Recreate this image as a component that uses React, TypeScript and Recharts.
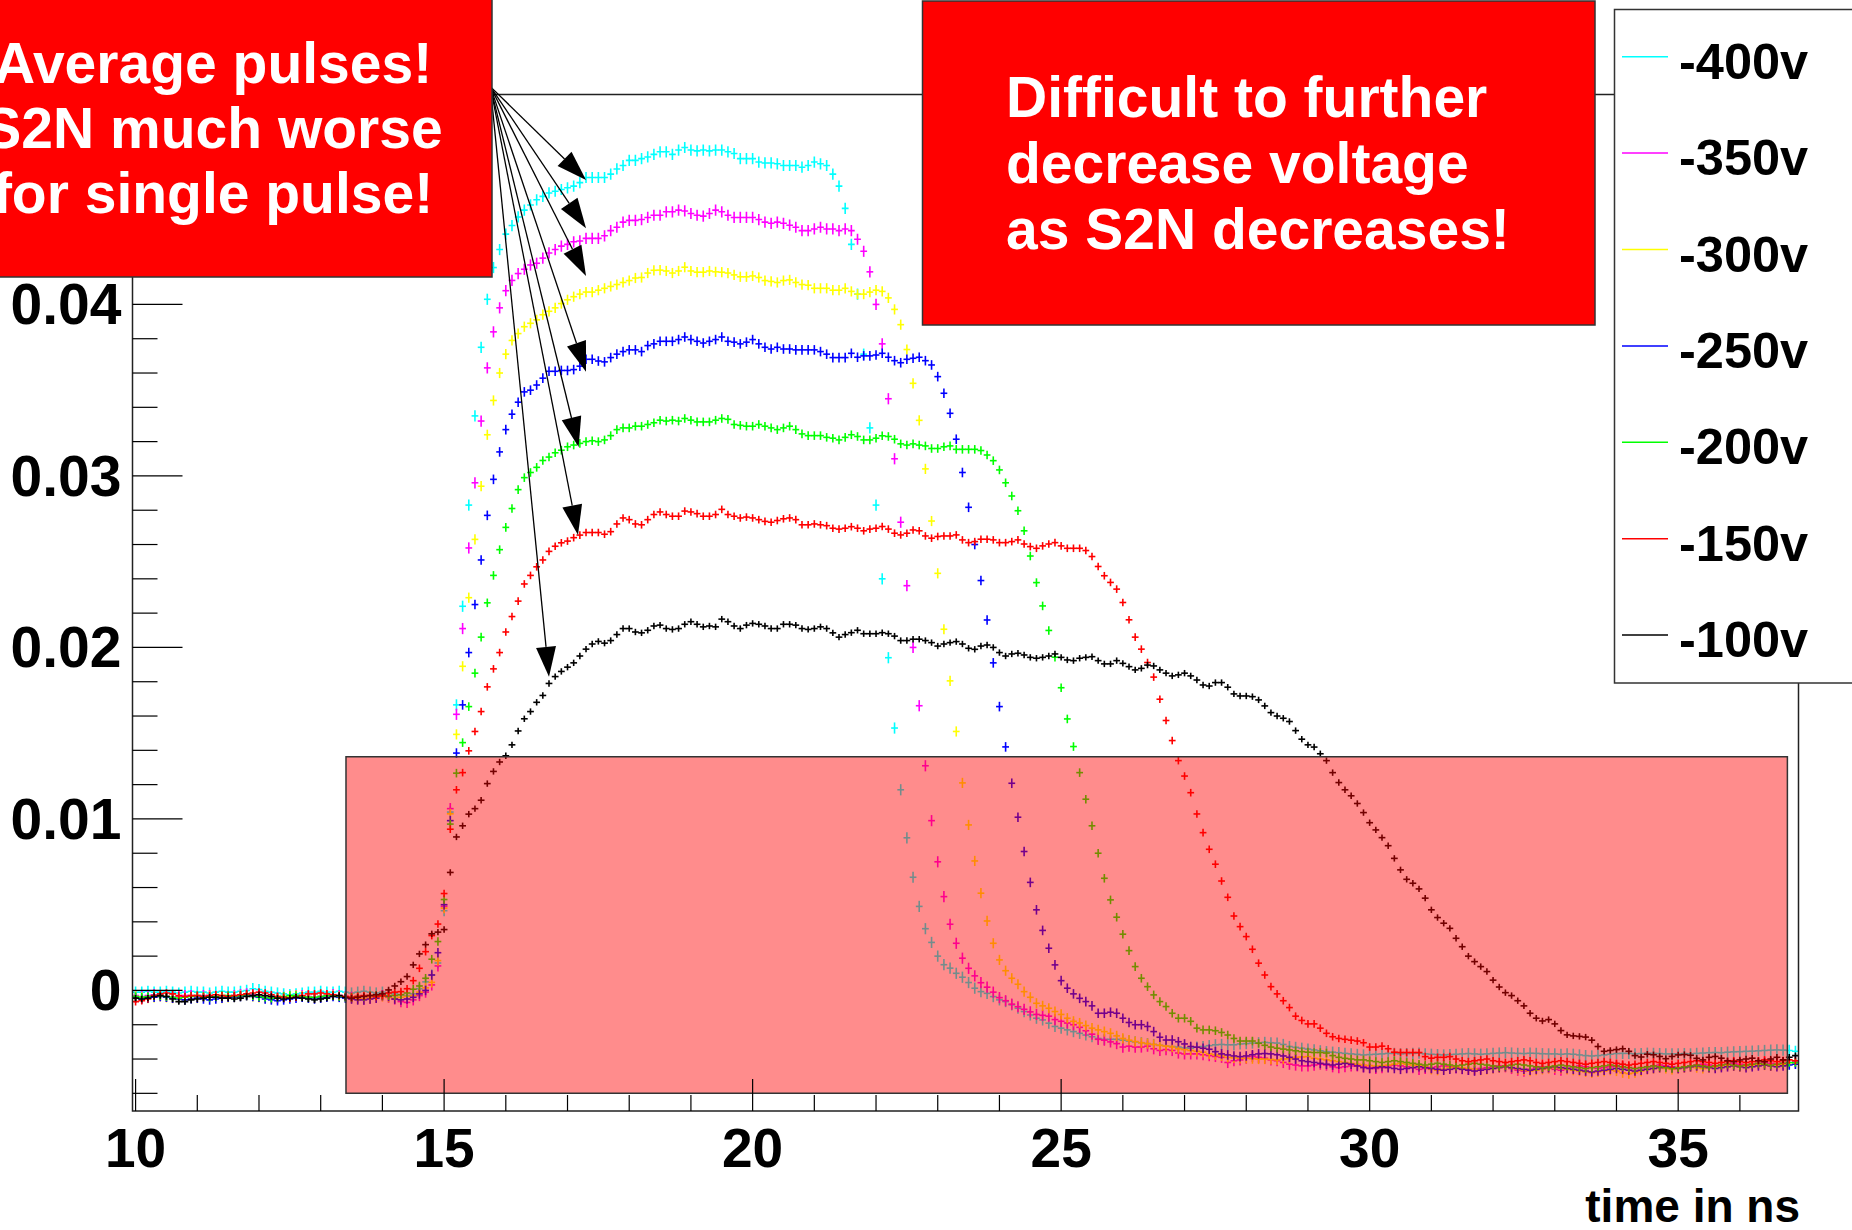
import React from "react";
import {
  ScatterChart,
  Scatter,
  XAxis,
  YAxis,
  ReferenceArea,
  ReferenceLine,
} from "recharts";

const W = 1852;
const H = 1230;
const FONT = "'Liberation Sans', Arial, Helvetica, sans-serif";

// plot frame in page pixels
const MARGIN = { top: 94.5, right: 53.5, bottom: 0, left: 0 };
const Y_AXIS_W = 132.5;
const X_AXIS_H = 119;

const X_DOMAIN: [number, number] = [9.95, 36.95];
const Y_DOMAIN: [number, number] = [-0.00703, 0.05224];

// averaged pulses, one value per 0.1 ns bin starting at 10.0 ns, in mV
const T0 = 10.0;
const DT = 0.1;

const mv400 = [
  -0.1, -0.1, -0.05, -0.1, -0.1, -0.05, -0.1, -0.15, -0.1, -0.05,
  -0.1, -0.1, -0.15, -0.1, -0.05, -0.1, -0.1, -0.05, 0.0, 0.1,
  0.05, -0.05, -0.1, -0.15, -0.2, -0.25, -0.2, -0.15, -0.1, -0.1,
  -0.05, -0.1, -0.1, -0.05, -0.1, -0.15, -0.1, -0.05, -0.1, -0.15,
  -0.1, -0.15, -0.2, -0.25, -0.3, -0.2, 0.1, 0.5, 0.9, 1.6,
  4.65, 10.4, 16.65, 22.4, 28.3, 33.5, 37.5, 40.3, 42.15, 43.2,
  44.1, 44.6, 45.1, 45.5, 45.8, 46.1, 46.3, 46.5, 46.6, 46.7,
  46.8, 46.9, 47.1, 47.4, 47.4, 47.4, 47.4, 47.6, 47.9, 48.1,
  48.4, 48.4, 48.5, 48.6, 48.75, 48.9, 48.9, 48.75, 49.0, 49.15,
  49.0, 48.95, 49.0, 48.95, 49.0, 49.0, 48.9, 48.8, 48.5, 48.5,
  48.5, 48.3, 48.25, 48.25, 48.2, 48.1, 48.1, 48.1, 48.0, 48.1,
  48.3, 48.2, 48.1, 47.6, 46.9, 45.6, 43.5, 40.6, 37.1, 32.8,
  28.3, 24.0, 19.4, 15.3, 11.7, 8.9, 6.6, 4.9, 3.6, 2.8,
  2.0, 1.5, 1.3, 1.0, 0.77, 0.46, 0.13, -0.07, -0.17, -0.36,
  -0.55, -0.65, -0.84, -1.04, -1.23, -1.43, -1.62, -1.72, -1.91, -2.1,
  -2.2, -2.3, -2.4, -2.5, -2.6, -2.7, -2.8, -2.85, -2.85, -2.85,
  -2.9, -2.95, -3.0, -3.05, -3.1, -3.15, -3.2, -3.25, -3.27, -3.3,
  -3.35, -3.37, -3.3, -3.27, -3.22, -3.17, -3.15, -3.17, -3.17, -3.12,
  -3.1, -3.07, -3.05, -3.03, -3.05, -3.07, -3.15, -3.27, -3.32, -3.37,
  -3.42, -3.47, -3.52, -3.57, -3.6, -3.63, -3.67, -3.7, -3.73, -3.76,
  -3.74, -3.72, -3.7, -3.67, -3.67, -3.7, -3.68, -3.67, -3.66, -3.7,
  -3.72, -3.74, -3.76, -3.74, -3.72, -3.7, -3.68, -3.7, -3.72, -3.7,
  -3.67, -3.65, -3.63, -3.65, -3.67, -3.68, -3.66, -3.67, -3.69, -3.7,
  -3.7, -3.72, -3.7, -3.72, -3.76, -3.8, -3.82, -3.8, -3.76, -3.72,
  -3.68, -3.67, -3.67, -3.7, -3.68, -3.66, -3.67, -3.68, -3.7, -3.7,
  -3.7, -3.68, -3.7, -3.67, -3.65, -3.63, -3.62, -3.63, -3.6, -3.58,
  -3.57, -3.55, -3.54, -3.52, -3.5, -3.48, -3.47, -3.48, -3.5, -3.55,
];

const mv350 = [
  -0.3, -0.35, -0.3, -0.25, -0.3, -0.35, -0.4, -0.35, -0.3, -0.3,
  -0.35, -0.3, -0.3, -0.35, -0.4, -0.35, -0.3, -0.25, -0.2, -0.25,
  -0.3, -0.35, -0.4, -0.45, -0.4, -0.35, -0.3, -0.3, -0.35, -0.4,
  -0.35, -0.3, -0.25, -0.3, -0.35, -0.4, -0.45, -0.5, -0.45, -0.4,
  -0.3, -0.4, -0.5, -0.65, -0.7, -0.55, -0.3, -0.1, 0.32, 1.43,
  4.9, 10.6, 16.1, 21.1, 25.8, 29.6, 33.2, 36.3, 38.4, 39.8,
  40.8, 41.4, 41.8, 42.05, 42.3, 42.4, 42.7, 43.0, 43.2, 43.4,
  43.5, 43.65, 43.7, 43.85, 43.85, 43.85, 44.0, 44.3, 44.5, 44.8,
  44.9, 44.9, 44.95, 45.07, 45.2, 45.2, 45.4, 45.4, 45.5, 45.45,
  45.3, 45.2, 45.15, 45.3, 45.5, 45.4, 45.2, 45.07, 45.07, 45.07,
  45.07, 44.95, 44.8, 44.73, 44.8, 44.73, 44.62, 44.5, 44.3, 44.3,
  44.4, 44.5, 44.4, 44.4, 44.3, 44.4, 44.3, 43.8, 43.1, 41.9,
  40.0, 37.7, 34.5, 31.0, 27.3, 23.6, 20.0, 16.6, 13.1, 9.9,
  7.5, 5.47, 3.86, 2.75, 1.88, 1.29, 0.85, 0.45, 0.19, -0.1,
  -0.42, -0.6, -0.8, -0.95, -1.1, -1.25, -1.4, -1.45, -1.5, -1.7,
  -1.8, -1.9, -2.0, -2.15, -2.35, -2.55, -2.85, -2.9, -3.0, -3.1,
  -3.3, -3.25, -3.3, -3.3, -3.25, -3.4, -3.5, -3.45, -3.5, -3.65,
  -3.7, -3.7, -3.7, -3.75, -3.8, -3.85, -3.9, -4.2, -4.1, -4.05,
  -3.95, -3.85, -3.9, -3.95, -4.05, -4.1, -4.2, -4.3, -4.35, -4.4,
  -4.4, -4.35, -4.3, -4.35, -4.45, -4.5, -4.45, -4.4, -4.4, -4.45,
  -4.5, -4.55, -4.5, -4.4, -4.35, -4.4, -4.45, -4.5, -4.6, -4.55,
  -4.5, -4.45, -4.4, -4.45, -4.5, -4.55, -4.6, -4.6, -4.55, -4.5,
  -4.45, -4.4, -4.45, -4.55, -4.65, -4.7, -4.6, -4.5, -4.45, -4.5,
  -4.6, -4.65, -4.55, -4.45, -4.4, -4.45, -4.5, -4.55, -4.5, -4.45,
  -4.4, -4.45, -4.5, -4.55, -4.5, -4.45, -4.4, -4.35, -4.4, -4.45,
  -4.5, -4.45, -4.4, -4.35, -4.3, -4.35, -4.4, -4.35, -4.3, -4.25,
  -4.3, -4.35, -4.3, -4.25, -4.2, -4.25, -4.3, -4.25, -4.2, -4.15,
];

const mv300 = [
  -0.35, -0.4, -0.45, -0.4, -0.35, -0.4, -0.45, -0.5, -0.55, -0.5,
  -0.45, -0.4, -0.35, -0.4, -0.45, -0.4, -0.35, -0.3, -0.3, -0.35,
  -0.4, -0.45, -0.5, -0.45, -0.4, -0.35, -0.3, -0.35, -0.4, -0.45,
  -0.4, -0.35, -0.3, -0.35, -0.4, -0.45, -0.5, -0.5, -0.45, -0.4,
  -0.35, -0.4, -0.45, -0.4, -0.35, -0.3, -0.1, 0.15, 0.47, 1.74,
  4.8, 10.3, 14.93, 18.9, 22.9, 26.3, 29.4, 32.4, 34.4, 36.0,
  37.1, 37.9, 38.3, 38.7, 38.9, 39.1, 39.4, 39.6, 39.8, 40.05,
  40.27, 40.45, 40.6, 40.72, 40.72, 40.83, 40.94, 41.05, 41.16, 41.28,
  41.39, 41.54, 41.57, 41.83, 41.99, 42.0, 41.95, 41.83, 41.95, 42.17,
  41.95, 41.88, 41.88, 41.95, 41.9, 41.88, 41.83, 41.72, 41.61, 41.61,
  41.66, 41.57, 41.39, 41.34, 41.28, 41.39, 41.43, 41.28, 41.16, 41.12,
  40.94, 40.94, 40.94, 40.83, 40.83, 40.94, 40.76, 40.6, 40.6, 40.72,
  40.83, 40.76, 40.38, 39.71, 38.82, 37.37, 35.4, 33.24, 30.41, 27.37,
  24.32, 21.06, 18.05, 15.1, 12.1, 9.65, 7.55, 5.67, 4.05, 2.75,
  1.78, 1.15, 0.71, 0.36, -0.07, -0.4, -0.75, -0.9, -1.04, -1.23,
  -1.4, -1.62, -1.8, -1.9, -2.05, -2.2, -2.3, -2.4, -2.5, -2.65,
  -2.8, -2.9, -2.98, -3.05, -3.1, -3.15, -3.2, -3.25, -3.3, -3.4,
  -3.45, -3.5, -3.55, -3.6, -3.7, -3.76, -3.82, -3.9, -3.93, -3.96,
  -3.96, -3.98, -4.0, -4.0, -4.02, -4.05, -4.0, -3.98, -3.9, -3.88,
  -3.86, -3.96, -4.0, -4.05, -4.1, -4.15, -4.2, -4.25, -4.3, -4.35,
  -4.38, -4.41, -4.38, -4.35, -4.3, -4.25, -4.3, -4.35, -4.4, -4.45,
  -4.6, -4.65, -4.6, -4.5, -4.45, -4.5, -4.55, -4.6, -4.65, -4.6,
  -4.55, -4.5, -4.45, -4.5, -4.6, -4.65, -4.7, -4.65, -4.6, -4.55,
  -4.5, -4.55, -4.6, -4.65, -4.7, -4.75, -4.8, -4.75, -4.7, -4.65,
  -4.7, -4.8, -4.85, -4.8, -4.7, -4.6, -4.55, -4.5, -4.55, -4.6,
  -4.55, -4.5, -4.45, -4.5, -4.55, -4.5, -4.45, -4.4, -4.35, -4.4,
  -4.45, -4.4, -4.35, -4.3, -4.35, -4.4, -4.35, -4.3, -4.3, -4.25,
];

const mv250 = [
  -0.45, -0.5, -0.45, -0.4, -0.35, -0.4, -0.45, -0.5, -0.55, -0.5,
  -0.45, -0.5, -0.55, -0.5, -0.45, -0.4, -0.4, -0.35, -0.3, -0.35,
  -0.4, -0.5, -0.55, -0.6, -0.55, -0.5, -0.45, -0.4, -0.45, -0.5,
  -0.45, -0.4, -0.35, -0.4, -0.45, -0.5, -0.55, -0.55, -0.5, -0.45,
  -0.3, -0.35, -0.5, -0.55, -0.5, -0.4, -0.2, 0.0, 0.9, 2.2,
  5.0, 9.9, 13.84, 16.65, 19.7, 22.5, 25.1, 27.7, 29.8, 31.4,
  32.7, 33.6, 34.3, 34.9, 35.0, 35.3, 35.7, 36.1, 36.1, 36.15,
  36.15, 36.2, 36.4, 36.8, 36.8, 36.7, 36.65, 36.9, 37.1, 37.25,
  37.35, 37.35, 37.25, 37.6, 37.7, 37.85, 37.85, 37.85, 37.95, 38.1,
  37.95, 37.85, 37.75, 37.85, 37.95, 38.1, 37.85, 37.8, 37.7, 37.8,
  37.95, 37.7, 37.5, 37.4, 37.5, 37.4, 37.4, 37.35, 37.35, 37.35,
  37.35, 37.25, 37.1, 36.9, 36.9, 36.9, 37.15, 36.92, 37.0, 37.0,
  37.05, 37.15, 36.92, 36.72, 36.6, 36.8, 36.86, 36.92, 36.72, 36.47,
  35.79, 34.82, 33.65, 32.14, 30.2, 28.17, 26.0, 23.9, 21.6, 19.1,
  16.55, 14.2, 12.08, 10.1, 8.1, 6.3, 4.7, 3.5, 2.46, 1.49,
  0.57, 0.13, -0.2, -0.46, -0.65, -0.9, -1.33, -1.33, -1.27, -1.33,
  -1.62, -1.87, -2.0, -2.0, -2.1, -2.4, -2.73, -2.89, -2.89, -2.99,
  -3.12, -3.27, -3.31, -3.37, -3.43, -3.57, -3.7, -3.76, -3.82, -3.86,
  -3.82, -3.75, -3.7, -3.68, -3.7, -3.75, -3.82, -3.9, -4.0, -4.1,
  -4.15, -4.2, -4.25, -4.3, -4.35, -4.3, -4.25, -4.3, -4.4, -4.5,
  -4.55, -4.5, -4.45, -4.5, -4.55, -4.6, -4.55, -4.5, -4.45, -4.5,
  -4.55, -4.6, -4.65, -4.6, -4.55, -4.6, -4.65, -4.7, -4.65, -4.6,
  -4.55, -4.5, -4.45, -4.5, -4.55, -4.6, -4.65, -4.6, -4.55, -4.5,
  -4.45, -4.5, -4.55, -4.6, -4.65, -4.7, -4.75, -4.7, -4.65, -4.6,
  -4.55, -4.6, -4.65, -4.7, -4.65, -4.6, -4.55, -4.5, -4.45, -4.5,
  -4.55, -4.5, -4.45, -4.4, -4.45, -4.5, -4.55, -4.5, -4.45, -4.4,
  -4.45, -4.5, -4.45, -4.4, -4.35, -4.4, -4.45, -4.4, -4.35, -4.3,
];

const mv200 = [
  -0.35, -0.4, -0.35, -0.3, -0.3, -0.35, -0.4, -0.45, -0.4, -0.35,
  -0.3, -0.35, -0.4, -0.35, -0.3, -0.3, -0.35, -0.3, -0.25, -0.3,
  -0.35, -0.4, -0.45, -0.4, -0.35, -0.3, -0.3, -0.35, -0.4, -0.4,
  -0.35, -0.3, -0.3, -0.35, -0.4, -0.4, -0.35, -0.35, -0.3, -0.3,
  -0.3, -0.3, -0.3, -0.25, -0.15, 0.07, 0.26, 0.71, 1.82, 2.85,
  5.3, 9.7, 12.67, 14.45, 16.55, 18.5, 20.6, 22.6, 24.2, 25.7,
  27.0, 28.1, 29.2, 29.9, 30.2, 30.5, 30.9, 31.1, 31.35, 31.5,
  31.7, 31.8, 31.9, 32.0, 32.05, 32.0, 32.1, 32.35, 32.7, 32.8,
  32.8, 32.9, 32.9, 33.0, 33.1, 33.25, 33.2, 33.25, 33.2, 33.35,
  33.25, 33.15, 33.15, 33.15, 33.25, 33.35, 33.3, 33.0, 32.95, 32.9,
  32.9, 33.0, 32.9, 32.8, 32.7, 32.8, 32.9, 32.7, 32.45, 32.35,
  32.35, 32.35, 32.25, 32.2, 32.1, 32.25, 32.4, 32.3, 32.1, 32.1,
  32.2, 32.34, 32.3, 32.14, 31.87, 31.8, 31.87, 31.8, 31.75, 31.6,
  31.6, 31.7, 31.75, 31.55, 31.55, 31.55, 31.55, 31.48, 31.22, 30.89,
  30.35, 29.6, 28.83, 27.97, 26.8, 25.33, 23.78, 22.42, 20.99, 19.43,
  17.65, 15.83, 14.22, 12.7, 11.15, 9.6, 8.0, 6.54, 5.28, 4.27,
  3.28, 2.32, 1.39, 0.71, 0.22, -0.26, -0.65, -0.94, -1.33, -1.62,
  -1.62, -1.8, -2.2, -2.3, -2.3, -2.35, -2.45, -2.6, -2.8, -2.95,
  -2.95, -2.95, -3.08, -3.2, -3.3, -3.37, -3.42, -3.47, -3.52, -3.57,
  -3.6, -3.62, -3.62, -3.65, -3.8, -3.9, -3.96, -4.0, -4.05, -4.05,
  -4.1, -4.15, -4.2, -4.15, -4.1, -4.15, -4.2, -4.25, -4.3, -4.35,
  -4.3, -4.25, -4.3, -4.35, -4.4, -4.35, -4.3, -4.25, -4.3, -4.35,
  -4.4, -4.45, -4.4, -4.35, -4.3, -4.35, -4.4, -4.45, -4.5, -4.45,
  -4.4, -4.35, -4.4, -4.45, -4.5, -4.55, -4.5, -4.45, -4.4, -4.35,
  -4.4, -4.45, -4.5, -4.55, -4.5, -4.45, -4.4, -4.45, -4.5, -4.55,
  -4.5, -4.45, -4.4, -4.35, -4.4, -4.45, -4.4, -4.35, -4.3, -4.35,
  -4.4, -4.35, -4.3, -4.25, -4.3, -4.35, -4.3, -4.25, -4.2, -4.2,
];

const mv150 = [
  -0.65, -0.6, -0.5, -0.3, -0.2, -0.15, -0.2, -0.3, -0.35, -0.3,
  -0.3, -0.35, -0.3, -0.25, -0.3, -0.35, -0.3, -0.25, -0.2, -0.15,
  -0.1, -0.15, -0.25, -0.35, -0.4, -0.45, -0.4, -0.3, -0.2, -0.2,
  -0.15, -0.2, -0.25, -0.3, -0.35, -0.4, -0.35, -0.3, -0.3, -0.35,
  -0.3, -0.15, -0.1, -0.07, 0.1, 0.57, 1.29, 2.26, 3.2, 3.87,
  5.65, 9.4, 11.7, 12.7, 13.97, 15.1, 16.26, 17.7, 18.75, 19.7,
  20.9, 21.8, 22.7, 23.7, 24.2, 24.7, 25.1, 25.6, 25.9, 26.1,
  26.2, 26.4, 26.55, 26.7, 26.7, 26.7, 26.6, 26.75, 27.2, 27.55,
  27.45, 27.2, 27.15, 27.45, 27.75, 27.9, 27.75, 27.65, 27.65, 27.95,
  27.9, 27.8, 27.65, 27.65, 27.75, 28.05, 27.75, 27.65, 27.55, 27.6,
  27.55, 27.45, 27.35, 27.3, 27.4, 27.5, 27.55, 27.45, 27.15, 27.15,
  27.2, 27.15, 27.1, 26.95, 26.9, 26.95, 27.04, 26.95, 26.8, 26.9,
  26.95, 27.05, 26.9, 26.66, 26.56, 26.66, 26.85, 26.8, 26.5, 26.37,
  26.47, 26.5, 26.5, 26.56, 26.27, 26.11, 26.17, 26.31, 26.31, 26.27,
  26.11, 26.11, 26.17, 26.27, 26.03, 25.88, 25.78, 25.92, 26.03, 26.11,
  25.92, 25.78, 25.78, 25.78, 25.65, 25.3, 24.72, 24.18, 23.79, 23.4,
  22.62, 21.61, 20.6, 19.9, 19.12, 18.27, 16.98, 15.74, 14.57, 13.4,
  12.5, 11.53, 10.29, 9.2, 8.23, 7.36, 6.38, 5.43, 4.34, 3.72,
  3.14, 2.4, 1.59, 0.9, 0.22, -0.2, -0.6, -1.0, -1.5, -1.75,
  -1.95, -1.95, -2.2, -2.5, -2.7, -2.8, -2.85, -2.9, -2.95, -3.05,
  -3.3, -3.3, -3.25, -3.4, -3.6, -3.62, -3.62, -3.62, -3.62, -3.86,
  -3.95, -3.9, -3.9, -3.86, -4.0, -4.1, -4.15, -4.1, -4.05, -4.0,
  -4.1, -4.15, -4.2, -4.15, -4.1, -4.05, -4.1, -4.2, -4.25, -4.2,
  -4.15, -4.1, -4.15, -4.2, -4.25, -4.3, -4.25, -4.2, -4.15, -4.2,
  -4.25, -4.3, -4.35, -4.3, -4.25, -4.2, -4.15, -4.2, -4.25, -4.3,
  -4.25, -4.2, -4.15, -4.1, -4.15, -4.2, -4.25, -4.2, -4.15, -4.1,
  -4.15, -4.2, -4.15, -4.1, -4.05, -4.1, -4.15, -4.1, -4.05, -4.1,
];

const mv100 = [
  -0.45, -0.5, -0.45, -0.35, -0.3, -0.35, -0.5, -0.65, -0.65, -0.55,
  -0.5, -0.45, -0.4, -0.4, -0.45, -0.45, -0.5, -0.45, -0.35, -0.3,
  -0.25, -0.3, -0.35, -0.45, -0.5, -0.45, -0.4, -0.45, -0.5, -0.55,
  -0.5, -0.45, -0.35, -0.3, -0.4, -0.45, -0.4, -0.35, -0.3, -0.25,
  -0.2, 0.03, 0.26, 0.51, 0.81, 1.49, 2.13, 2.67, 3.3, 3.4,
  3.55, 6.88, 8.95, 9.6, 10.28, 10.6, 11.09, 12.06, 12.77, 13.32,
  13.68, 14.32, 15.13, 15.84, 16.26, 16.8, 17.2, 17.9, 18.3, 18.6,
  18.85, 19.1, 19.5, 19.9, 20.2, 20.35, 20.25, 20.4, 20.75, 21.1,
  21.1, 20.9, 20.85, 21.0, 21.25, 21.3, 21.1, 21.05, 21.1, 21.35,
  21.5, 21.35, 21.2, 21.25, 21.2, 21.65, 21.5, 21.25, 21.1, 21.3,
  21.4, 21.35, 21.25, 21.1, 21.1, 21.35, 21.35, 21.3, 21.1, 21.05,
  21.1, 21.2, 21.1, 20.85, 20.6, 20.75, 20.86, 21.0, 20.8, 20.8,
  20.8, 20.86, 20.8, 20.66, 20.4, 20.4, 20.48, 20.48, 20.4, 20.28,
  20.08, 20.2, 20.28, 20.34, 20.2, 19.95, 19.89, 20.08, 20.14, 20.0,
  19.7, 19.5, 19.62, 19.66, 19.56, 19.42, 19.37, 19.42, 19.5, 19.62,
  19.42, 19.27, 19.23, 19.37, 19.42, 19.46, 19.23, 19.04, 19.04, 19.23,
  19.07, 18.88, 18.69, 18.78, 18.97, 18.92, 18.69, 18.5, 18.34, 18.4,
  18.5, 18.34, 18.1, 17.81, 17.75, 17.95, 17.95, 17.68, 17.29, 17.17,
  17.17, 17.13, 16.94, 16.59, 16.2, 16.0, 15.87, 15.68, 15.15, 14.65,
  14.32, 14.19, 13.8, 13.4, 12.7, 12.12, 11.7, 11.35, 10.9, 10.37,
  9.78, 9.36, 8.91, 8.44, 7.7, 7.03, 6.48, 6.25, 5.92, 5.38,
  4.7, 4.25, 3.92, 3.62, 3.04, 2.55, 2.0, 1.68, 1.39, 1.1,
  0.6, 0.2, -0.13, -0.3, -0.6, -0.9, -1.33, -1.62, -1.78, -1.7,
  -1.95, -2.34, -2.59, -2.65, -2.68, -2.72, -2.9, -3.27, -3.55, -3.5,
  -3.45, -3.4, -3.55, -3.8, -3.88, -3.72, -3.75, -3.85, -3.98, -3.85,
  -3.76, -3.74, -3.78, -3.96, -4.05, -3.9, -3.85, -3.95, -4.1, -4.15,
  -4.05, -4.0, -3.95, -4.1, -4.15, -4.0, -3.9, -4.05, -3.9, -3.8,
];

const voltages = ["-400v", "-350v", "-300v", "-250v", "-200v", "-150v", "-100v"];
const colors = ["#00ffff", "#ff00ff", "#ffff00", "#0000ff", "#00ff00", "#ff0000", "#000000"];
const pulses = [mv400, mv350, mv300, mv250, mv200, mv150, mv100];
// half height of the vertical error mark, px
const errHalf = [5.6, 5.6, 5.1, 4.8, 4.3, 3.8, 3.2];

// arrows: common start at the note's corner, tips on each curve (ns, V)
const arrowFrom = { t: 15.75, v: 0.0527 };
const arrowTips = [
  { t: 17.3, v: 0.04726 },
  { t: 17.3, v: 0.04444 },
  { t: 17.3, v: 0.04166 },
  { t: 17.3, v: 0.03608 },
  { t: 17.18, v: 0.03168 },
  { t: 17.17, v: 0.02655 },
  { t: 16.7, v: 0.01829 },
];

// shaded band (ns, V)
const band = { t1: 13.41, t2: 36.77, v1: -0.00599, v2: 0.01363 };

const xTicks = Array.from({ length: 27 }, (_, i) => 10 + i);
const yTicks = Array.from({ length: 30 }, (_, i) => Math.round((i - 3) * 2) / 1000);

const leftNote = ["Average pulses!", "S2N much worse", "for single pulse!"];
const rightNote = ["Difficult to further", "decrease voltage", "as S2N decreases!"];

const PLOT_W = W - MARGIN.right - Y_AXIS_W;
const BIN_HALF_PX = ((PLOT_W / (X_DOMAIN[1] - X_DOMAIN[0])) * DT) / 2 + 0.3;

const seriesData = pulses.map((vals) =>
  vals.map((mv, i) => ({ t: Math.round((T0 + i * DT) * 10) / 10, v: mv / 1000 }))
);

function plusShape(color: string, half: number) {
  return (props: any) => {
    const { cx, cy } = props;
    if (cx == null || cy == null) return <g />;
    return (
      <g stroke={color} strokeWidth={1.6}>
        <line x1={cx - BIN_HALF_PX} x2={cx + BIN_HALF_PX} y1={cy} y2={cy} />
        <line x1={cx} x2={cx} y1={cy - half} y2={cy + half} />
      </g>
    );
  };
}

function TimeTick(props: any) {
  const { x, y, payload } = props;
  const v = payload.value;
  const major = v % 5 === 0;
  return (
    <g>
      <line x1={x} x2={x} y1={y} y2={y - (major ? 32 : 16)} stroke="#000" strokeWidth={1.2} />
      {major && (
        <text x={x} y={y + 56} textAnchor="middle" fontSize={55} fontWeight="bold" fontFamily={FONT} fill="#000">
          {v}
        </text>
      )}
    </g>
  );
}

function AmpTick(props: any) {
  const { x, y, payload } = props;
  const v = payload.value;
  const major = Math.round(v * 1000) % 10 === 0;
  return (
    <g>
      <line x1={x} x2={x + (major ? 50 : 25)} y1={y} y2={y} stroke="#000" strokeWidth={1.2} />
      {major && (
        <text x={x - 11} y={y + 20} textAnchor="end" fontSize={57} fontWeight="bold" fontFamily={FONT} fill="#000">
          {v === 0 ? "0" : v.toFixed(2)}
        </text>
      )}
    </g>
  );
}

function Arrow(props: any) {
  const { x1, y1, x2, y2 } = props;
  if ([x1, y1, x2, y2].some((n) => n == null || isNaN(n))) return <g />;
  const dx = x2 - x1;
  const dy = y2 - y1;
  const len = Math.hypot(dx, dy);
  const ux = dx / len;
  const uy = dy / len;
  const head = 30;
  const wing = 10;
  const bx = x2 - ux * head;
  const by = y2 - uy * head;
  const pts = `${x2},${y2} ${bx - uy * wing},${by + ux * wing} ${bx + uy * wing},${by - ux * wing}`;
  return (
    <g>
      <line x1={x1} y1={y1} x2={bx} y2={by} stroke="#000" strokeWidth={1.3} />
      <polygon points={pts} fill="#000" />
    </g>
  );
}

export default function App() {
  return (
    <div
      style={{
        position: "absolute",
        left: 0,
        top: 0,
        width: W,
        height: H,
        overflow: "hidden",
        background: "#fff",
        fontFamily: FONT,
      }}
    >
      <ScatterChart width={W} height={H} margin={MARGIN}>
        <XAxis
          type="number"
          dataKey="t"
          domain={X_DOMAIN}
          allowDataOverflow
          ticks={xTicks}
          interval={0}
          height={X_AXIS_H}
          tickSize={0}
          tickMargin={0}
          axisLine={false}
          tickLine={false}
          tick={<TimeTick />}
        />
        <YAxis
          type="number"
          dataKey="v"
          domain={Y_DOMAIN}
          allowDataOverflow
          ticks={yTicks}
          interval={0}
          width={Y_AXIS_W}
          tickSize={0}
          tickMargin={0}
          axisLine={false}
          tickLine={false}
          tick={<AmpTick />}
        />
        {seriesData.map((d, i) => (
          <Scatter
            key={voltages[i]}
            name={voltages[i]}
            data={d}
            isAnimationActive={false}
            shape={plusShape(colors[i], errHalf[i])}
          />
        ))}
        <ReferenceArea
          x1={band.t1}
          x2={band.t2}
          y1={band.v1}
          y2={band.v2}
          fill="#ff0000"
          fillOpacity={0.45}
          stroke="#333"
          strokeWidth={1.5}
          strokeOpacity={1}
          ifOverflow="visible"
          zIndex={1500}
        />
        <ReferenceArea
          x1={X_DOMAIN[0]}
          x2={X_DOMAIN[1]}
          y1={Y_DOMAIN[0]}
          y2={Y_DOMAIN[1]}
          fill="none"
          stroke="#222"
          strokeWidth={1.5}
          strokeOpacity={1}
          ifOverflow="visible"
          zIndex={1550}
        />
        {arrowTips.map((tip, i) => (
          <ReferenceLine
            key={i}
            segment={[
              { x: arrowFrom.t, y: arrowFrom.v },
              { x: tip.t, y: tip.v },
            ]}
            ifOverflow="visible"
            shape={Arrow}
            zIndex={1600}
          />
        ))}
      </ScatterChart>

      <svg
        width={W}
        height={H}
        style={{ position: "absolute", left: 0, top: 0, pointerEvents: "none" }}
        fontFamily={FONT}
        fontWeight="bold"
      >
        <rect x={-80} y={-10} width={572} height={287} fill="#ff0000" stroke="#333" strokeWidth={1.5} />
        {leftNote.map((s, i) => (
          <text key={s} x={213} y={83 + i * 65} textAnchor="middle" fontSize={57} fill="#fff">
            {s}
          </text>
        ))}

        <rect x={922.5} y={1} width={672.5} height={324} fill="#ff0000" stroke="#333" strokeWidth={1.5} />
        {rightNote.map((s, i) => (
          <text key={s} x={1006} y={117 + i * 66} fontSize={57} fill="#fff">
            {s}
          </text>
        ))}

        <rect x={1614.5} y={9.5} width={400} height={673.5} fill="#fff" stroke="#333" strokeWidth={1.5} />
        {voltages.map((name, i) => {
          const y = 56.7 + i * 96.4;
          return (
            <g key={name}>
              <line x1={1622} x2={1668} y1={y} y2={y} stroke={colors[i]} strokeWidth={1.5} />
              <text x={1679} y={y + 22} fontSize={50.5} fill="#000">
                {name}
              </text>
            </g>
          );
        })}

        <text x={1800} y={1222} textAnchor="end" fontSize={46} fill="#000">
          time in ns
        </text>
      </svg>
    </div>
  );
}
